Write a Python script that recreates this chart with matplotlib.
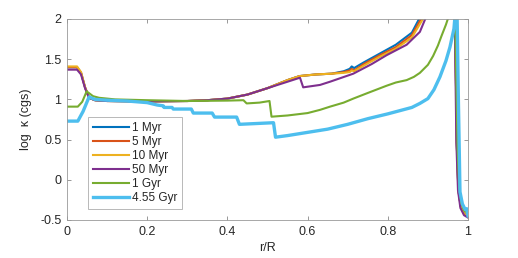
import numpy as np
import matplotlib
matplotlib.use("Agg")
import matplotlib.pyplot as plt

plt.rcParams["font.family"] = ["Liberation Sans", "DejaVu Sans"]

LABELS = ["1 Myr", "5 Myr", "10 Myr", "50 Myr", "1 Gyr", "4.55 Gyr"]
COLORS = ["#0072BD", "#D95319", "#EDB120", "#7E2F8E", "#77AC30", "#4DBEEE"]
WIDTHS = [1.5, 1.5, 1.5, 1.5, 1.5, 2.4]

# r/R and log kappa
r_1myr = [0, 0.025, 0.035, 0.045, 0.055, 0.07, 0.1, 0.2, 0.3, 0.35, 0.4, 0.45, 0.5,
          0.55, 0.58, 0.62, 0.66, 0.69, 0.705, 0.71, 0.716, 0.74, 0.78, 0.82, 0.86,
          0.88, 0.92, 0.963, 0.968, 0.972, 0.976, 0.982, 0.99, 1.0]
k_1myr = [1.40, 1.40, 1.33, 1.15, 1.02, 0.99, 0.98, 0.975, 0.98, 0.99, 1.01, 1.06, 1.14,
          1.24, 1.29, 1.31, 1.32, 1.35, 1.38, 1.41, 1.39, 1.46, 1.57, 1.68, 1.83,
          2.02, 2.4, 2.7, 2.0, 0.46, -0.13, -0.33, -0.42, -0.46]

r_5myr = [0, 0.025, 0.035, 0.045, 0.055, 0.07, 0.1, 0.2, 0.3, 0.35, 0.4, 0.45, 0.5,
          0.55, 0.58, 0.62, 0.66, 0.69, 0.705, 0.71, 0.716, 0.74, 0.78, 0.82, 0.86,
          0.885, 0.92, 0.963, 0.968, 0.972, 0.976, 0.982, 0.99, 1.0]
k_5myr = [1.40, 1.40, 1.33, 1.15, 1.02, 0.99, 0.98, 0.975, 0.98, 0.99, 1.01, 1.06, 1.14,
          1.24, 1.29, 1.31, 1.32, 1.34, 1.36, 1.38, 1.36, 1.44, 1.55, 1.65, 1.80,
          2.02, 2.4, 2.7, 2.0, 0.46, -0.13, -0.33, -0.42, -0.46]

r_10myr = [0, 0.025, 0.035, 0.045, 0.055, 0.07, 0.1, 0.2, 0.3, 0.35, 0.4, 0.45, 0.5,
           0.55, 0.58, 0.62, 0.66, 0.69, 0.705, 0.71, 0.716, 0.74, 0.78, 0.82, 0.86,
           0.89, 0.92, 0.963, 0.968, 0.972, 0.976, 0.982, 0.99, 1.0]
k_10myr = [1.41, 1.41, 1.34, 1.15, 1.02, 0.99, 0.98, 0.975, 0.98, 0.99, 1.01, 1.06, 1.14,
           1.24, 1.29, 1.31, 1.32, 1.33, 1.34, 1.36, 1.35, 1.42, 1.53, 1.63, 1.77,
           2.02, 2.4, 2.7, 2.0, 0.46, -0.13, -0.33, -0.42, -0.46]

r_50myr = [0, 0.025, 0.035, 0.045, 0.055, 0.07, 0.1, 0.2, 0.3, 0.35, 0.4, 0.45, 0.5,
           0.55, 0.581, 0.589, 0.631, 0.656, 0.714, 0.76, 0.797, 0.847, 0.88, 0.895,
           0.93, 0.963, 0.967, 0.971, 0.975, 0.981, 0.99, 1.0]
k_50myr = [1.37, 1.37, 1.31, 1.14, 1.02, 0.99, 0.98, 0.975, 0.98, 0.99, 1.01, 1.06, 1.14,
           1.22, 1.27, 1.15, 1.18, 1.22, 1.32, 1.44, 1.55, 1.68, 1.84, 2.02,
           2.4, 2.7, 2.0, 0.46, -0.13, -0.35, -0.44, -0.47]

r_1gyr = [0, 0.027, 0.038, 0.049, 0.065, 0.08, 0.12, 0.2, 0.3, 0.4, 0.44, 0.448, 0.48,
          0.505, 0.51, 0.55, 0.6, 0.631, 0.656, 0.69, 0.714, 0.75, 0.797, 0.82, 0.847,
          0.865, 0.88, 0.9, 0.913, 0.925, 0.934, 0.945, 0.951, 0.962, 0.968, 0.974,
          0.978, 0.984, 0.99, 1.0]
k_1gyr = [0.91, 0.91, 0.97, 1.10, 1.04, 1.02, 1.00, 0.99, 0.98, 0.985, 0.99, 0.95, 0.96,
          0.98, 0.785, 0.80, 0.83, 0.87, 0.91, 0.96, 1.01, 1.08, 1.17, 1.21, 1.24,
          1.28, 1.33, 1.43, 1.54, 1.67, 1.79, 1.93, 2.02, 2.4, 2.0, 0.40,
          -0.10, -0.30, -0.38, -0.42]

r_455gyr = [0, 0.027, 0.04, 0.055, 0.07, 0.1, 0.15, 0.2, 0.225, 0.24, 0.242, 0.262,
            0.265, 0.31, 0.315, 0.362, 0.368, 0.423, 0.43, 0.515, 0.52, 0.55, 0.6,
            0.65, 0.7, 0.75, 0.8, 0.83, 0.86, 0.88, 0.9, 0.915, 0.93, 0.945, 0.955,
            0.965, 0.972, 0.976, 0.98, 0.986, 0.993, 0.997, 1.0]
k_455gyr = [0.73, 0.73, 0.85, 1.03, 1.00, 0.99, 0.98, 0.96, 0.93, 0.92, 0.90, 0.90,
            0.88, 0.88, 0.83, 0.83, 0.78, 0.78, 0.69, 0.71, 0.53, 0.55, 0.59,
            0.63, 0.69, 0.76, 0.82, 0.86, 0.90, 0.95, 1.01, 1.12, 1.28, 1.48, 1.65,
            1.88, 2.3, 1.0, -0.15, -0.30, -0.37, -0.36, -0.45]

R_SETS = [r_1myr, r_5myr, r_10myr, r_50myr, r_1gyr, r_455gyr]
K_SETS = [k_1myr, k_5myr, k_10myr, k_50myr, k_1gyr, k_455gyr]

TXT = "#262626"

fig = plt.figure(figsize=(5.18, 2.58), dpi=100)
ax = fig.add_axes([67 / 518, 38 / 258, 401 / 518, 201 / 258])

for r, k, lab, c, lw in zip(R_SETS, K_SETS, LABELS, COLORS, WIDTHS):
    ax.plot(r, k, color=c, lw=lw, label=lab)

ax.set_xlim(0, 1)
ax.set_ylim(-0.5, 2)
ax.set_xticks([0, 0.2, 0.4, 0.6, 0.8, 1])
ax.set_xticklabels(["0", "0.2", "0.4", "0.6", "0.8", "1"])
ax.set_yticks([-0.5, 0, 0.5, 1, 1.5, 2])
ax.set_yticklabels(["-0.5", "0", "0.5", "1", "1.5", "2"])
ax.tick_params(direction="in", length=3, width=0.6, labelcolor=TXT, labelsize=9,
               top=True, right=True, color="#888888", pad=4)
for s in ax.spines.values():
    s.set_color("#999999")
    s.set_linewidth(0.6)

ax.set_xlabel("r/R", fontsize=9, color=TXT, labelpad=3)
ax.set_ylabel("log  κ (cgs)", fontsize=9, color=TXT, labelpad=6)

leg = ax.legend(loc="upper left", bbox_to_anchor=(0.052, 0.512), fontsize=8.5,
                frameon=True, fancybox=False, borderaxespad=0, handlelength=3.1,
                handletextpad=0.25, labelspacing=0.17, borderpad=0.4)
leg.get_frame().set_edgecolor("#999999")
leg.get_frame().set_linewidth(0.6)
for t in leg.get_texts():
    t.set_color(TXT)

fig.savefig("out.png", dpi=100, facecolor="white")
